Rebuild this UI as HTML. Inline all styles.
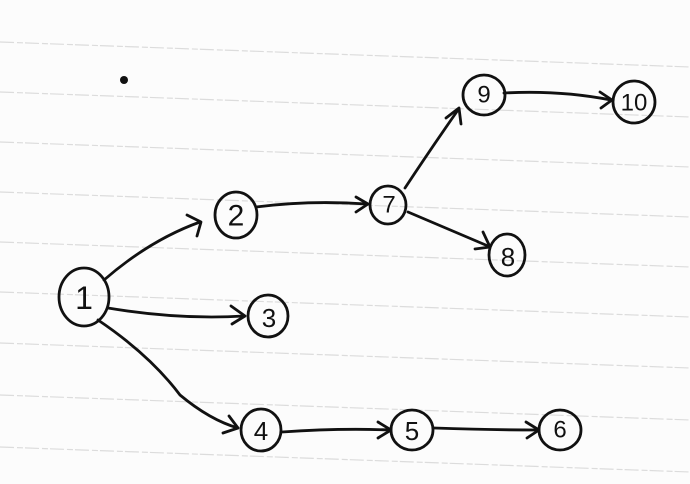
<!DOCTYPE html>
<html><head><meta charset="utf-8"><style>
html,body{margin:0;padding:0;background:#fdfdfd;}
svg{display:block;}
text{font-family:"Liberation Sans",sans-serif;font-size:24px;fill:#111;text-anchor:middle;dominant-baseline:central;}
</style></head><body>
<svg width="690" height="484" viewBox="0 0 690 484" xmlns="http://www.w3.org/2000/svg">
<rect width="690" height="484" fill="#fcfcfc"/>
<g stroke="#dcdcdc" stroke-width="1.2" stroke-dasharray="14 3 6 2">
<line x1="0" y1="42" x2="690" y2="67"/>
<line x1="0" y1="92" x2="690" y2="117"/>
<line x1="0" y1="142" x2="690" y2="167"/>
<line x1="0" y1="192" x2="690" y2="217"/>
<line x1="0" y1="242" x2="690" y2="267"/>
<line x1="0" y1="292" x2="690" y2="317"/>
<line x1="0" y1="343" x2="690" y2="368"/>
<line x1="0" y1="395" x2="690" y2="420"/>
<line x1="0" y1="447" x2="690" y2="472"/>
</g>
<circle cx="124" cy="80" r="4" fill="#111"/>
<g stroke="#111" stroke-width="2.8" fill="none" stroke-linecap="round" stroke-linejoin="round">
<path d="M104 280 Q150 240 200 222"/><path d="M187 215 L201 222 L197 236"/>
<path d="M108 308 Q180 320 244 316"/><path d="M231 306 L245 316 L232 324"/>
<path d="M98 320 Q150 355 180 395 Q210 420 238 428"/><path d="M223 433 L238 428 L229 416"/>
<path d="M282 432 Q340 428 390 430"/><path d="M378 422 L391 430 L378 438"/>
<path d="M434 428 Q490 430 538 430"/><path d="M526 422 L539 430 L527 438"/>
<path d="M256 207 Q310 200 367 204"/><path d="M356 197 L368 204 L356 212"/>
<path d="M405 188 Q430 150 458 110"/><path d="M446 118 L459 108 L461 124"/>
<path d="M408 212 Q450 230 488 246"/><path d="M483 232 L490 247 L475 249"/>
<path d="M504 93 Q560 90 611 100"/><path d="M600 92 L612 100 L601 108"/>
<ellipse cx="84" cy="297" rx="25" ry="29"/>
<ellipse cx="236" cy="215" rx="21" ry="23"/>
<ellipse cx="268" cy="316" rx="20" ry="21"/>
<ellipse cx="261" cy="430" rx="20" ry="21"/>
<ellipse cx="412" cy="430" rx="21" ry="20"/>
<ellipse cx="560" cy="430" rx="21" ry="20"/>
<ellipse cx="388" cy="205" rx="18" ry="19"/>
<ellipse cx="507" cy="255" rx="18" ry="21"/>
<ellipse cx="484" cy="95" rx="21" ry="20"/>
<ellipse cx="634" cy="102" rx="21" ry="21"/>
</g>
<text x="84" y="298" style="font-size:32px">1</text>
<text x="236" y="216" style="font-size:30px">2</text>
<text x="269" y="318" style="font-size:26px">3</text>
<text x="261" y="431" style="font-size:26px">4</text>
<text x="412" y="431" style="font-size:26px">5</text>
<text x="560" y="430">6</text>
<text x="389" y="205">7</text>
<text x="508" y="257" style="font-size:26px">8</text>
<text x="484" y="95">9</text>
<text x="634" y="103">10</text>
</svg>
</body></html>
